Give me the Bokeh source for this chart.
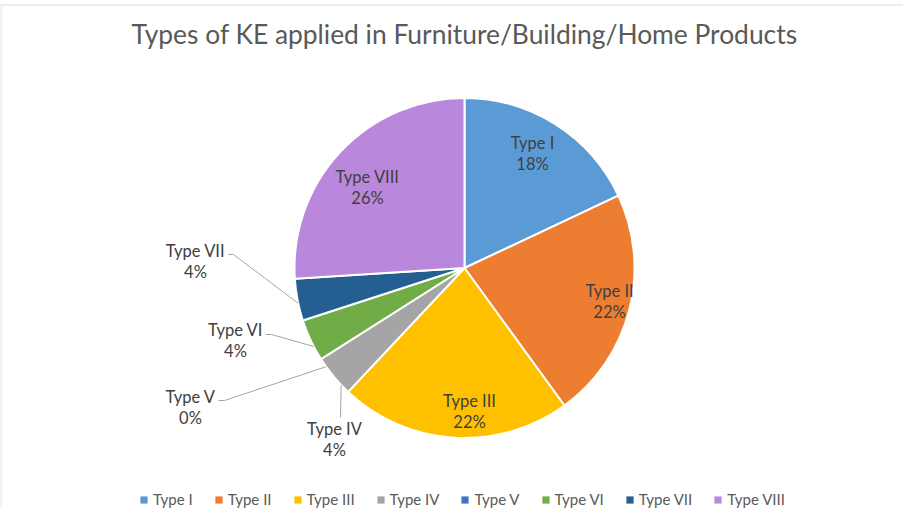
import math
from bokeh.plotting import figure
from bokeh.models import Range1d, Legend, LegendItem, ColumnDataSource, Label
from bokeh.embed import file_html
from bokeh.resources import INLINE
from bokeh.core.properties import value

# ---------------- data ----------------
categories = ["Type I", "Type II", "Type III", "Type IV", "Type V", "Type VI", "Type VII", "Type VIII"]
counts = [9, 11, 11, 2, 0, 2, 2, 13]
colors = ["#5B9BD5", "#ED7D31", "#FFC000", "#A5A5A5", "#4472C4", "#70AD47", "#255E91", "#B987DB"]
chart_title = "Types of KE applied in Furniture/Building/Home Products"

# ---------------- layout (page pixels) ----------------
W, H = 903, 508
def X(px): return px - 8
def Y(py): return 516 - py

CX, CY, R = 472, 275.5, 170
FONT = "Lato"

# label centres (page px) : x, y of the name line; percentage line is 21 px below
label_pos = [(540, 150), (617, 298), (477, 408), (342, 436), (198, 404), (243, 337), (203, 258), (375, 184)]
# leader lines for outside labels: index -> (start angle deg clockwise from top, list of page points after start)
leaders = {
    3: (226.5, [(348, 425)]),
    4: (234.5, [(232, 408), (226, 408)]),
    5: (242.5, [(279, 342), (273, 342)]),
    6: (258.0, [(241, 262), (236, 262)]),
}

total = sum(counts)
fracs = [c / total for c in counts]
starts, ends = [], []
acc = 0.0
for f in fracs:
    starts.append(math.pi / 2 - 2 * math.pi * acc)
    acc += f
    ends.append(math.pi / 2 - 2 * math.pi * acc)
pct = [f"{round(f * 100)}%" for f in fracs]

p = figure(width=W, height=H, x_range=Range1d(0, W), y_range=Range1d(0, H),
           toolbar_location=None, output_backend="svg", min_border=0,
           x_axis_location=None, y_axis_location=None)
p.grid.visible = False
p.outline_line_color = None
p.background_fill_color = "white"
p.border_fill_color = "white"

# chart frame (top + left edges visible)
p.line(x=[0, W], y=[Y(12.5), Y(12.5)], line_color="#D9D9D9", line_width=1)
p.line(x=[X(8.5), X(8.5)], y=[Y(12.5), 0], line_color="#D9D9D9", line_width=1)

# visible slices (zero-valued slices have no area)
nz = [i for i, c in enumerate(counts) if c > 0]
src = ColumnDataSource(dict(x=[X(CX)] * len(nz), y=[Y(CY)] * len(nz),
                            start=[starts[i] for i in nz], end=[ends[i] for i in nz],
                            color=[colors[i] for i in nz]))
p.wedge(x="x", y="y", radius=R, start_angle="start", end_angle="end", direction="clock",
        fill_color="color", line_color="white", line_width=2, source=src)

# legend swatches (kept off-frame so only the legend shows them)
lsrc = ColumnDataSource(dict(x=[-5000] * len(counts), y=[-5000] * len(counts),
                             start=starts, end=ends, color=colors))
lr = p.wedge(x="x", y="y", radius=1, start_angle="start", end_angle="end", direction="clock",
             fill_color="color", line_color=None, source=lsrc)

# leader lines
for i, (ang, pts) in leaders.items():
    a = math.radians(ang)
    sx, sy = CX + R * math.sin(a), CY - R * math.cos(a)
    xs = [X(sx)] + [X(q[0]) for q in pts]
    ys = [Y(sy)] + [Y(q[1]) for q in pts]
    p.line(x=xs, y=ys, line_color="#A6A6A6", line_width=1)

# data labels
lx = [X(q[0]) for q in label_pos]
p.text(x=lx, y=[Y(q[1]) for q in label_pos], text=categories, text_align="center",
       text_baseline="middle", text_font=value(FONT), text_font_size="16.5px", text_color="#404040")
p.text(x=lx, y=[Y(q[1] + 21) for q in label_pos], text=pct, text_align="center",
       text_baseline="middle", text_font=value(FONT), text_font_size="16.5px", text_color="#404040")

# title
p.add_layout(Label(x=X(472), y=Y(41), text=chart_title, text_align="center", text_baseline="middle",
                   text_font=FONT, text_font_size="26.4px", text_color="#595959"))

# legend
items = [LegendItem(label=c, renderers=[lr], index=i) for i, c in enumerate(categories)]
legend = Legend(items=items, orientation="horizontal", location=(X(147), 0),
                glyph_width=9, glyph_height=9, label_standoff=5, spacing=21,
                label_text_font=FONT, label_text_font_size="15px", label_text_color="#595959",
                padding=0, margin=0, border_line_color=None, background_fill_alpha=0,
                label_height=16)
p.add_layout(legend)

open("out.html", "w").write(file_html(p, INLINE))
